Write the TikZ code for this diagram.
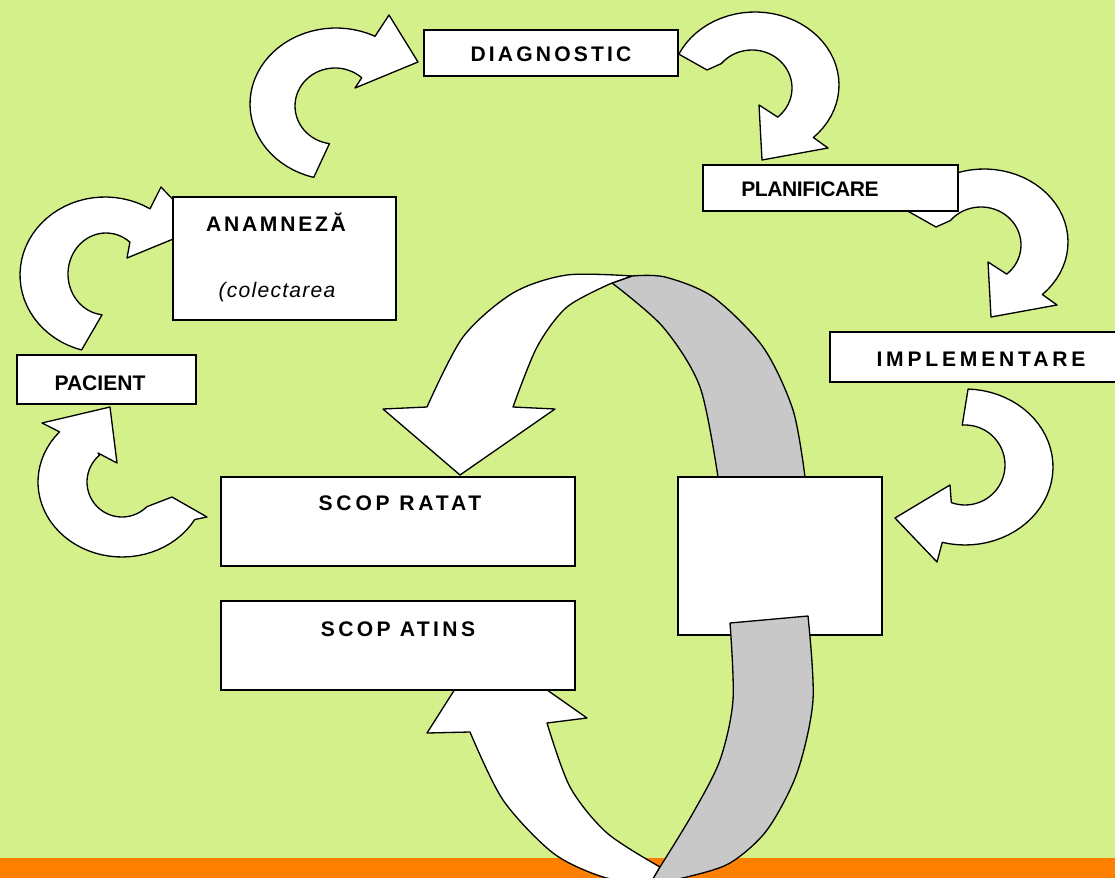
\documentclass[tikz,border=0pt]{standalone}
\usepackage{fontspec}
\setmainfont{Liberation Sans}
\definecolor{cyclegreen}{RGB}{212,240,139}
\definecolor{cycleorange}{RGB}{255,128,0}
\definecolor{ribbongrey}{RGB}{200,200,200}
\newcommand{\tracked}[1]{\addfontfeature{LetterSpace=#1}}
\tikzset{
  stagebox/.style={draw=black,fill=white,line width=.9pt,inner sep=0pt},
  stagetext/.style={anchor=base,inner sep=0pt,font=\fontsize{12}{14}\selectfont\bfseries},
  notetext/.style={anchor=base,inner sep=0pt,font=\fontsize{12}{14}\selectfont\itshape},
  bendarrow/.style={draw=black,fill=white,line width=.75pt,line join=round},
  foldband/.style={bendarrow,fill=ribbongrey},
}
\begin{document}
\begin{tikzpicture}[x=.02cm,y=-.02cm]
  \useasboundingbox (0,0) rectangle (1115,878);
  \fill[cyclegreen] (0,0) rectangle (1115,878);
  \fill[cycleorange] (0,858) rectangle (1115,878);

  % bent arrows from stage to stage
  \draw[bendarrow] plot[domain=106:302,samples=40] ({105+85*cos(\x)},{275+78*sin(\x)})
    -- (161,187) -- (200,228) -- (127,258)
    -- plot[domain=309:96,samples=40] ({106+38*cos(\x)},{274+41*sin(\x)}) -- cycle;
  \draw[bendarrow] plot[domain=105:297,samples=40] ({336+86*cos(\x)},{104+76*sin(\x)})
    -- (389,15) -- (418,62) -- (355,88)
    -- plot[domain=312:98,samples=40] ({335+40*cos(\x)},{106+38*sin(\x)}) -- cycle;
  \foreach \dx/\dy in {0/0,229/157}{
    \draw[bendarrow,shift={(\dx,\dy)}] plot[domain=205:406,samples=40] ({755+84*cos(\x)},{85+73*sin(\x)})
      -- (828,148) -- (762,160) -- (759,105)
      -- plot[domain=410:220,samples=40] ({752+40*cos(\x)},{88+38*sin(\x)}) -- (707,70) -- cycle;
  }
  \draw[bendarrow] plot[domain=272:465,samples=40] ({965+88*cos(\x)},{467+78*sin(\x)})
    -- (937,562) -- (895,518) -- (950,485)
    -- plot[domain=470:266,samples=40] ({965+40*cos(\x)},{465+40*sin(\x)}) -- cycle;
  \draw[bendarrow] (207,517) -- plot[domain=30:222,samples=40] ({122+84*cos(\x)},{482+75*sin(\x)})
    -- (42,423) -- (110,407) -- (117,463) -- (98,453)
    -- plot[domain=230:45,samples=40] ({122+35*cos(\x)},{482+35*sin(\x)}) -- (172,497) -- cycle;

  % big ribbon, upper half
  \draw[foldband] (632,276) -- plot[smooth] coordinates {(612,283) (663,327) (700,387) (718,477)}
    -- (805,477) -- plot[smooth] coordinates {(805,477) (793,410) (763,347) (713,297) (665,277) (632,276)} -- cycle;
  \draw[bendarrow] plot[smooth] coordinates {(427,407) (463,337) (513,293) (567,275) (632,276)}
    -- (612,283) -- plot[smooth] coordinates {(612,283) (567,307) (537,347) (513,407)}
    -- (555,409) -- (460,475) -- (383,409) -- cycle;
  % big ribbon, lower half (front)
  \draw[bendarrow] plot[smooth] coordinates {(470,732) (503,800) (553,853) (603,877) (650,884)}
    -- (660,867) -- plot[smooth] coordinates {(660,867) (607,833) (570,787) (547,723)}
    -- (587,718) -- (483,645) -- (427,733) -- cycle;

  % stages
  \node[stagebox,minimum width=5.08cm,minimum height=.92cm] (diag) at (551,53) {};
  \node[stagebox,minimum width=5.10cm,minimum height=.92cm] (plan) at (830.5,188) {};
  \node[stagebox,minimum width=4.46cm,minimum height=2.46cm] (anam) at (284.5,258.5) {};
  \node[stagebox,minimum width=3.58cm,minimum height=.98cm] (pac) at (106.5,379.5) {};
  \node[stagebox,minimum width=6.04cm,minimum height=1.00cm] (impl) at (981,357) {};
  \node[stagebox,minimum width=7.08cm,minimum height=1.78cm] (ratat) at (398,521.5) {};
  \node[stagebox,minimum width=7.08cm,minimum height=1.78cm] (atins) at (398,645.5) {};
  \node[stagebox,minimum width=4.08cm,minimum height=3.16cm] (eval) at (780,556) {};

  % big ribbon, lower half (back)
  \draw[foldband] (730,623) -- (808,616)
    -- plot[smooth] coordinates {(808,616) (813,700) (797,773) (767,830) (730,863) (687,877) (650,884)}
    -- (660,867) -- plot[smooth] coordinates {(660,867) (693,813) (720,760) (733,700) (730,623)} -- cycle;

  % labels
  \node[stagetext] (diagtxt) at (551,62) {\tracked{15}DIAGNOSTIC};
  \node[stagetext] (plantxt) at (810,197) {\tracked{-2}PLANIFICARE};
  \node[stagetext] (anamtxt) at (276,232) {\tracked{13}ANAMNEZĂ};
  \node[notetext] (anamnote) at (277,297) {\tracked{6}(colectarea};
  \node[stagetext] (pactxt) at (100,390) {\tracked{0}PACIENT};
  \node[stagetext] (impltxt) at (981,366) {\tracked{18}IMPLEMENTARE};
  \node[stagetext] (ratattxt) at (400,510) {\tracked{18}SCOP RATAT};
  \node[stagetext] (atinstxt) at (398,636) {\tracked{16}SCOP ATINS};
\end{tikzpicture}
\end{document}
